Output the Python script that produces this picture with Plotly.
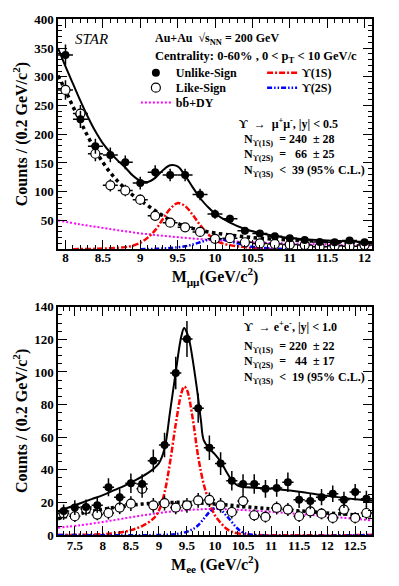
import plotly.graph_objects as go

# --- dimuon panel (top) ---
mm_x = [8.0, 8.2, 8.4, 8.6, 8.8, 9.0, 9.2, 9.4, 9.6, 9.8, 10.0, 10.2, 10.4, 10.6, 10.8, 11.0, 11.2, 11.4, 11.6, 11.8, 12.0]
mm_unlike = [338, 226, 179, 164, 151, 115, 134, 129, 129, 95, 61, 53, 32, 27, 22.5, 19, 16, 12.5, 12, 15, 12]
mm_unlike_err = [18, 15, 13, 13, 12, 11, 12, 11, 11, 10, 8, 7, 6, 5, 5, 4.5, 4, 3.5, 3.5, 4, 3.5]
mm_like = [277, 236, 166, 111, 102, 86, 58, 46, 38, 30, 18, 19, 12, 10, 9, 8, 7, 4, 6, 5, 7]
mm_like_err = [17, 15, 13, 10.5, 10, 9, 7.5, 7, 6, 5.5, 4, 4.5, 3.5, 3, 3, 3, 2.5, 2, 2.5, 2, 2.5]
mm_xerr = [0.1] * len(mm_x)

tot_mm_x = [7.9, 8.0, 8.1, 8.2, 8.3, 8.4, 8.5, 8.6, 8.7, 8.8, 8.9, 9.0, 9.1, 9.2, 9.3, 9.4, 9.5, 9.6, 9.7, 9.8, 9.9, 10.0, 10.2, 10.4, 10.6, 10.8, 11.0, 11.2, 11.5, 11.8, 12.1]
tot_mm_y = [350, 318, 288, 258, 230, 205, 184, 168, 154, 142, 128, 119, 117, 124, 137, 146, 144, 128, 108, 89, 74, 62, 46, 35, 28, 23, 19.5, 17, 15, 13.5, 12.5]
lk_mm_x = [7.9, 8.0, 8.1, 8.2, 8.3, 8.4, 8.5, 8.6, 8.7, 8.8, 8.9, 9.0, 9.2, 9.4, 9.6, 9.8, 10.0, 10.3, 10.6, 11.0, 11.5, 12.1]
lk_mm_y = [302, 276, 248, 222, 196, 172, 151, 133, 118, 105, 94, 85, 67, 51, 40, 33, 28, 23, 19, 16, 13, 10.5]
bb_mm_x = [7.9, 8.2, 8.5, 8.8, 9.1, 9.4, 9.7, 10.0, 10.4, 10.8, 11.2, 11.6, 12.1]
bb_mm_y = [50, 43, 37, 31, 26, 22, 18.5, 15.5, 12.5, 10.5, 9, 7.5, 6.5]
u1_mm_x = [8.1, 8.4, 8.6, 8.8, 8.9, 9.0, 9.1, 9.2, 9.3, 9.4, 9.5, 9.6, 9.7, 9.8, 9.9, 10.0, 10.1, 10.2, 10.3, 10.4, 10.5, 10.7, 10.9]
u1_mm_y = [0, 0.5, 1.5, 3.5, 6, 11, 20, 33, 52, 70, 80, 75, 60, 42, 27, 16, 10, 7, 5, 3.5, 2, 0.5, 0]
u2_mm_x = [9.0, 9.2, 9.4, 9.6, 9.7, 9.8, 9.9, 10.0, 10.1, 10.2, 10.3, 10.4, 10.5, 10.6, 10.8, 11.0]
u2_mm_y = [0, 0.5, 2, 5, 8, 12, 16, 18, 17, 14, 10, 7, 4, 2.5, 1, 0]

# --- dielectron panel (bottom) ---
ee_x = [7.3, 7.5, 7.7, 7.9, 8.1, 8.3, 8.5, 8.7, 8.9, 9.1, 9.3, 9.5, 9.7, 9.9, 10.1, 10.3, 10.5, 10.7, 10.9, 11.1, 11.3, 11.5, 11.7, 11.9, 12.1, 12.3, 12.5, 12.7]
ee_unlike = [14.7, 16.8, 17.2, 18.2, 29.3, 23.2, 31.7, 31.3, 45.5, 55.2, 99.4, 120.2, 77.8, 53.5, 43.8, 33.3, 31.3, 31.3, 28.3, 28.9, 32.3, 21.6, 20.8, 23.2, 25.3, 21.6, 26.3, 22.2]
ee_unlike_err = [4, 4.5, 4.5, 4.5, 5.5, 5, 6, 6, 7, 7.5, 10, 11, 9, 7.5, 7, 6, 6, 6, 5.5, 5.5, 6, 5, 5, 5, 5, 5, 5, 5]
ee_like = [13.3, 11.5, 16, 12.5, 13.5, 16.8, 19.2, 28.3, 18.2, 19.5, 16.8, 18.2, 21.2, 21.6, 18.2, 14.1, 20.8, 12.1, 11.1, 16.6, 15.6, 11.5, 14.5, 13.1, 10.5, 15.6, 10.5, 13.5]
ee_like_err = [4, 3.5, 4, 3.5, 4, 4, 4.5, 5.5, 4.5, 4.5, 4, 4.5, 4.5, 4.5, 4.5, 4, 4.5, 3.5, 3.5, 4, 4, 3.5, 4, 3.5, 3.5, 4, 3.5, 4]
ee_xerr = [0.1] * len(ee_x)

tot_ee_x = [7.2, 7.4, 7.6, 7.8, 8.0, 8.2, 8.4, 8.6, 8.8, 8.9, 9.0, 9.1, 9.2, 9.3, 9.4, 9.45, 9.5, 9.55, 9.6, 9.7, 9.75, 9.8, 9.9, 10.0, 10.1, 10.2, 10.3, 10.4, 10.5, 10.7, 11.0, 11.5, 12.0, 12.5, 12.8]
tot_ee_y = [14.5, 17, 19.5, 22, 24.5, 27.5, 30.5, 34, 38, 40.5, 44, 53, 76, 100, 122, 127, 124, 118, 108, 84, 70, 58, 53, 49.5, 45, 39, 33.5, 30.5, 29.5, 29, 28.5, 26.5, 24, 22, 21]
lk_ee_x = [7.2, 7.5, 7.8, 8.1, 8.4, 8.7, 9.0, 9.5, 10.0, 10.5, 11.0, 11.5, 12.0, 12.5, 12.8]
lk_ee_y = [10, 12.5, 14.5, 16.3, 17.8, 19, 19.7, 20, 19, 17.5, 16, 14.8, 13.5, 12.4, 11.8]
bb_ee_x = [7.2, 7.6, 8.0, 8.4, 8.8, 9.2, 9.6, 10.0, 10.4, 10.8, 11.2, 11.6, 12.0, 12.4, 12.8]
bb_ee_y = [4.5, 6, 8, 10.3, 12.5, 14.3, 15.5, 16, 15.5, 14.7, 13.7, 12.6, 11.5, 10.2, 9]
u1_ee_x = [7.2, 8.0, 8.3, 8.5, 8.7, 8.9, 9.0, 9.1, 9.2, 9.3, 9.4, 9.45, 9.5, 9.6, 9.7, 9.8, 9.9, 10.0, 10.1, 10.2, 10.3, 10.5, 10.7, 12.8]
u1_ee_y = [0, 0.5, 1.5, 3, 5.5, 10, 15, 26, 45, 68, 87, 91, 89, 72, 48, 31, 20, 12, 7.5, 4, 2, 0.5, 0, 0]
u2_ee_x = [7.2, 9.0, 9.3, 9.5, 9.6, 9.7, 9.8, 9.9, 10.0, 10.1, 10.2, 10.3, 10.4, 10.5, 10.7, 12.8]
u2_ee_y = [0, 0, 0.5, 2, 3.5, 6, 10, 14, 16.5, 15.5, 12, 8, 4, 1.5, 0, 0]

FONT = "Liberation Serif"
RED_DASH = "6px,2px,2px,2px"
BLUE_DASH = "5px,2px,1.5px,2px,1.5px,2px"

fig = go.Figure()


def add_panel(xa, ya, px, unl, unl_e, lk, lk_e, xe, tot, lkfit, bb, u1, u2, lkdash, show):
    fig.add_scatter(x=bb[0], y=bb[1], xaxis=xa, yaxis=ya, mode="lines", line_shape="spline",
                    line=dict(color="#ff00ff", width=2, dash="2px,2px"), name="b<span>b̄</span>+DY",
                    showlegend=show, legend="legend3")
    fig.add_scatter(x=u1[0], y=u1[1], xaxis=xa, yaxis=ya, mode="lines", line_shape="spline",
                    line=dict(color="#ff0000", width=2.5, dash=RED_DASH), name="ϒ(1S)",
                    showlegend=show, legend="legend4")
    fig.add_scatter(x=u2[0], y=u2[1], xaxis=xa, yaxis=ya, mode="lines", line_shape="spline",
                    line=dict(color="#0000ff", width=2.5, dash=BLUE_DASH), name="ϒ(2S)",
                    showlegend=show, legend="legend5")
    fig.add_scatter(x=lkfit[0], y=lkfit[1], xaxis=xa, yaxis=ya, mode="lines", line_shape="spline",
                    line=dict(color="black", width=3.5, dash=lkdash), showlegend=False)
    fig.add_scatter(x=tot[0], y=tot[1], xaxis=xa, yaxis=ya, mode="lines", line_shape="spline",
                    line=dict(color="black", width=2), showlegend=False)
    fig.add_scatter(x=px, y=lk, xaxis=xa, yaxis=ya, mode="markers", name="Like-Sign",
                    marker=dict(symbol="circle", size=9, color="white", line=dict(color="black", width=1.2)),
                    error_x=dict(type="data", array=xe, color="black", thickness=1.5, width=0),
                    error_y=dict(type="data", array=lk_e, color="black", thickness=1.5, width=0),
                    showlegend=show, legend="legend2")
    fig.add_scatter(x=px, y=unl, xaxis=xa, yaxis=ya, mode="markers", name="Unlike-Sign",
                    marker=dict(symbol="circle", size=8, color="black"),
                    error_x=dict(type="data", array=xe, color="black", thickness=1.5, width=0),
                    error_y=dict(type="data", array=unl_e, color="black", thickness=1.5, width=0),
                    showlegend=show, legend="legend")


add_panel("x", "y", mm_x, mm_unlike, mm_unlike_err, mm_like, mm_like_err, mm_xerr,
          (tot_mm_x, tot_mm_y), (lk_mm_x, lk_mm_y), (bb_mm_x, bb_mm_y),
          (u1_mm_x, u1_mm_y), (u2_mm_x, u2_mm_y), "dot", True)
add_panel("x2", "y2", ee_x, ee_unlike, ee_unlike_err, ee_like, ee_like_err, ee_xerr,
          (tot_ee_x, tot_ee_y), (lk_ee_x, lk_ee_y), (bb_ee_x, bb_ee_y),
          (u1_ee_x, u1_ee_y), (u2_ee_x, u2_ee_y), "3px,3px", False)

tickfont = dict(family=FONT, size=13, color="black", weight="bold")
titlefont = dict(family=FONT, size=16, color="black", weight="bold")
ax_common = dict(showline=True, linecolor="black", linewidth=1.5, mirror="allticks",
                 ticks="inside", ticklen=9, tickwidth=1.2, tickcolor="black",
                 showgrid=False, zeroline=False, tickfont=tickfont, title_font=titlefont)


def leg(x, y):
    return dict(x=x, y=y, xanchor="left", yanchor="middle", bgcolor="rgba(0,0,0,0)",
                font=dict(family=FONT, size=12, color="black", weight="bold"),
                itemwidth=30, tracegroupgap=0)


fig.update_layout(
    width=399, height=586,
    margin=dict(l=58, r=27, t=15, b=51),
    paper_bgcolor="white", plot_bgcolor="white",
    font=dict(family=FONT, color="black"),
    xaxis=dict(domain=[0, 1], anchor="y", range=[7.9, 12.1], tick0=8, dtick=0.5, ticklabelstandoff=-4,
               minor=dict(dtick=0.1, tick0=8, ticks="inside", ticklen=4, tickcolor="black"),
               title=dict(text="M<sub>μμ</sub>(GeV/c<sup>2</sup>)", standoff=2), **ax_common),
    yaxis=dict(domain=[0.554, 1], anchor="x", range=[0, 400.5],
               tickvals=[50, 100, 150, 200, 250, 300, 350, 400],
               minor=dict(tickmode="linear", dtick=10, tick0=0, ticks="inside", ticklen=4, tickcolor="black"),
               title=dict(text="Counts / (0.2 GeV/c<sup>2</sup>)", standoff=3), **ax_common),
    xaxis2=dict(domain=[0, 1], anchor="y2", range=[7.2, 12.8], tick0=7.5, dtick=0.5, ticklabelstandoff=-2,
                minor=dict(dtick=0.1, tick0=7.5, ticks="inside", ticklen=4, tickcolor="black"),
                title=dict(text="M<sub>ee</sub> (GeV/c<sup>2</sup>)", standoff=4), **ax_common),
    yaxis2=dict(domain=[0, 0.4423], anchor="x2", range=[0, 140], tick0=0, dtick=20,
                minor=dict(dtick=5, tick0=0, ticks="inside", ticklen=4, tickcolor="black"),
                title=dict(text="Counts / (0.2 GeV/c<sup>2</sup>)", standoff=3), **ax_common),
    legend=leg(0.248, 0.896),
    legend2=leg(0.248, 0.867),
    legend3=leg(0.248, 0.838),
    legend4=leg(0.65, 0.896),
    legend5=leg(0.65, 0.867),
)

texts = [
    ("<i>STAR</i>", 0.048, 0.9615, 15, "normal"),
    ("Au+Au  √s<sub>NN</sub> = 200 GeV", 0.3025, 0.9615, 12, "bold"),
    ("Centrality: 0-60% , 0 < p<sub>T</sub> < 10 GeV/c", 0.3025, 0.927, 12.5, "bold"),
    ("ϒ  →  μ<sup>+</sup>μ<sup>-</sup>, |y| < 0.5", 0.570, 0.798, 12, "bold"),
    ("N<sub>ϒ(1S)</sub>  = 240  ± 28", 0.586, 0.765, 12, "bold"),
    ("N<sub>ϒ(2S)</sub>  =   66  ± 25", 0.586, 0.7365, 12, "bold"),
    ("N<sub>ϒ(3S)</sub>  <  39 (95% C.L.)", 0.586, 0.706, 12, "bold"),
    ("ϒ  → e<sup>+</sup>e<sup>-</sup>, |y| < 1.0", 0.586, 0.404, 12, "bold"),
    ("N<sub>ϒ(1S)</sub>  = 220  ± 22", 0.586, 0.365, 12, "bold"),
    ("N<sub>ϒ(2S)</sub>  =   44  ± 17", 0.586, 0.335, 12, "bold"),
    ("N<sub>ϒ(3S)</sub>  <  19 (95% C.L.)", 0.586, 0.304, 12, "bold"),
]
for t, x, y, s, w in texts:
    fig.add_annotation(text=t.replace("  ", "\u00a0 "), x=x, y=y, xref="paper", yref="paper",
                       xanchor="left", yanchor="middle", showarrow=False,
                       font=dict(family=FONT, size=s, color="black", weight=w))

# drop the default 8px page margin so the figure sits at the window origin
fig.write_html("out.html", config={"displayModeBar": False},
               post_script="document.body.style.margin='0';")
